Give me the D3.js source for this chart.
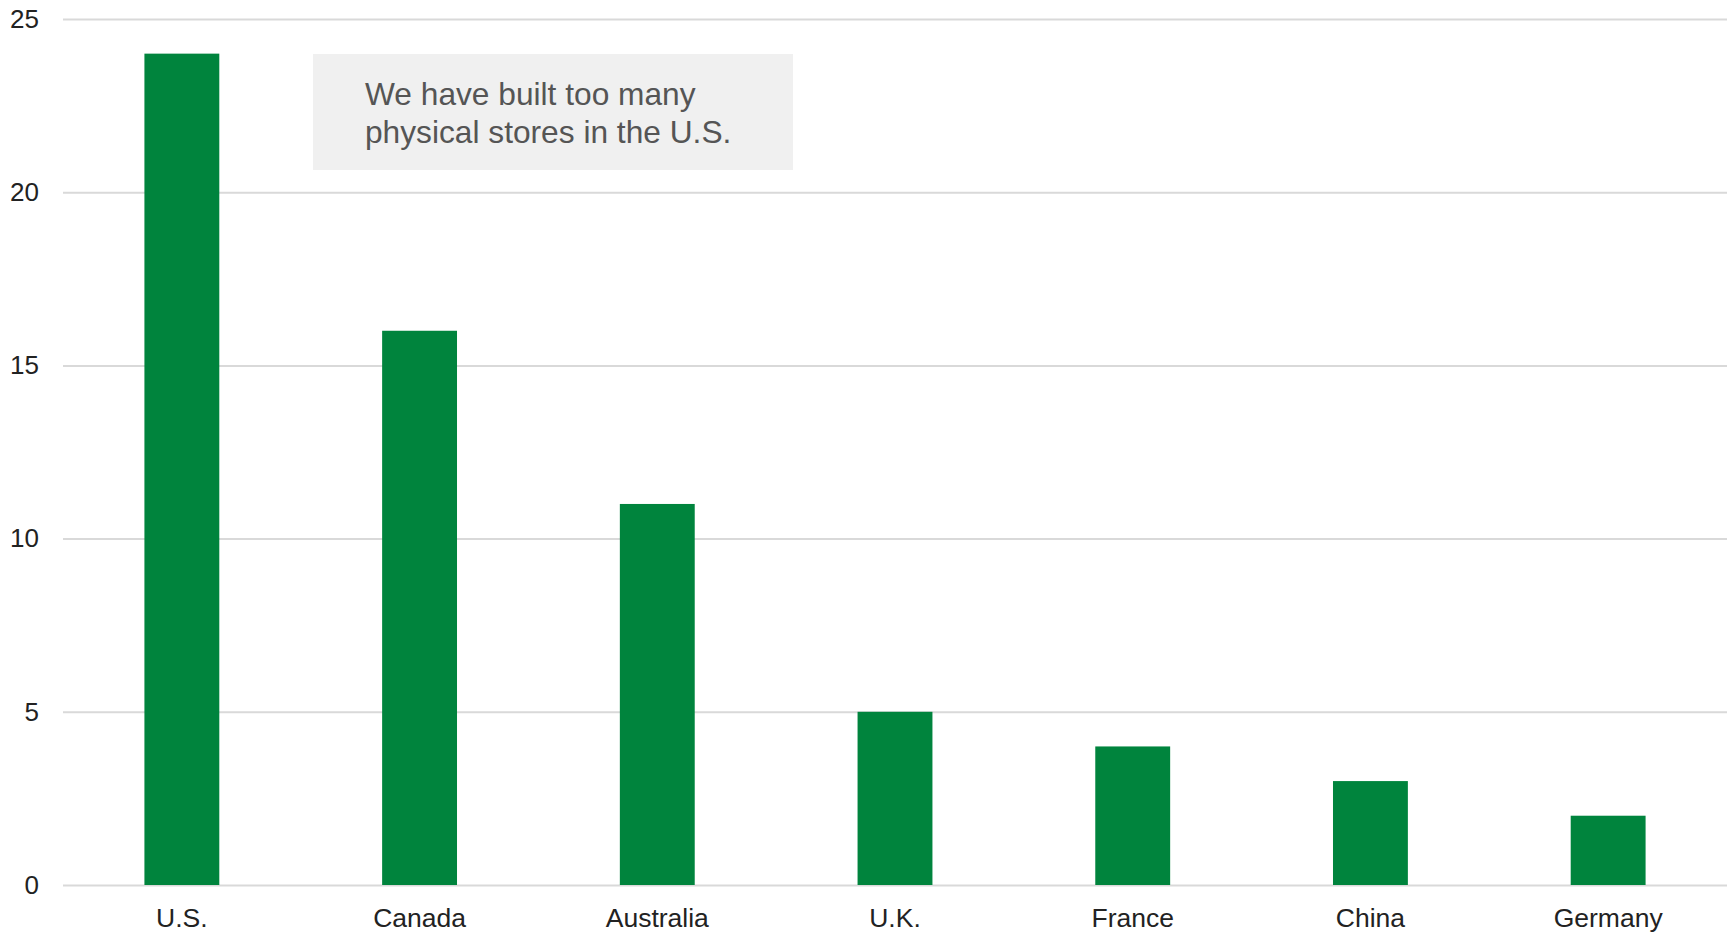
<!DOCTYPE html>
<html>
<head>
<meta charset="utf-8">
<script src="https://cdn.jsdelivr.net/npm/d3@7"></script>
<style>
  html, body { margin: 0; padding: 0; background: #fff; }
  svg { display: block; font-family: "Liberation Sans", Arial, Helvetica, sans-serif; }
</style>
</head>
<body>
<svg id="chart" width="1732" height="932"></svg>
<script>
const categories = ["U.S.", "Canada", "Australia", "U.K.", "France", "China", "Germany"];
const values = [24, 16, 11, 5, 4, 3, 2];
const yTicks = [0, 5, 10, 15, 20, 25];
const annotationLines = ["We have built too many", "physical stores in the U.S."];

const svg = d3.select("#chart");
const margin = { left: 63, right: 5, top: 19, bottom: 47 };
const W = 1732, H = 932;

const x = d3.scaleBand()
  .domain(categories)
  .range([margin.left, W - margin.right])
  .paddingInner(0.685)
  .paddingOuter(0.3425);

const y = d3.scaleLinear()
  .domain([0, 25])
  .range([H - margin.bottom, margin.top]);

// gridlines
const yAxis = d3.axisLeft(y).tickValues(yTicks).tickSize(-(W - margin.right - margin.left)).tickPadding(24);
const gy = svg.append("g")
  .attr("transform", `translate(${margin.left},0)`)
  .call(yAxis);
gy.select(".domain").remove();
gy.selectAll(".tick line").attr("stroke", "#d9d9d9").attr("stroke-width", 2);
gy.selectAll(".tick text")
  .attr("fill", "#222")
  .attr("font-size", 26)
  .attr("font-family", "'Liberation Sans', Arial, sans-serif");

// bars
svg.append("g").selectAll("rect")
  .data(categories.map((c, i) => ({ c, v: values[i] })))
  .join("rect")
  .attr("x", d => x(d.c))
  .attr("width", x.bandwidth())
  .attr("y", d => y(d.v))
  .attr("height", d => y(0) - y(d.v))
  .attr("fill", "#00843d");

// x axis labels
const xAxis = d3.axisBottom(x).tickSize(0).tickPadding(23);
const gx = svg.append("g")
  .attr("transform", `translate(0,${y(0)})`)
  .call(xAxis);
gx.select(".domain").remove();
gx.selectAll(".tick text")
  .attr("fill", "#222")
  .attr("font-size", 26.5)
  .attr("font-family", "'Liberation Sans', Arial, sans-serif");

// annotation box
const ann = svg.append("g");
ann.append("rect")
  .attr("x", 313).attr("y", 54)
  .attr("width", 480).attr("height", 116)
  .attr("fill", "#f0f0f0");
ann.append("text")
  .attr("x", 365).attr("y", 105)
  .attr("fill", "#555")
  .attr("font-size", 31.7)
  .selectAll("tspan")
  .data(annotationLines)
  .join("tspan")
  .attr("x", 365)
  .attr("dy", (d, i) => i === 0 ? 0 : 38)
  .text(d => d);
</script>
</body>
</html>
